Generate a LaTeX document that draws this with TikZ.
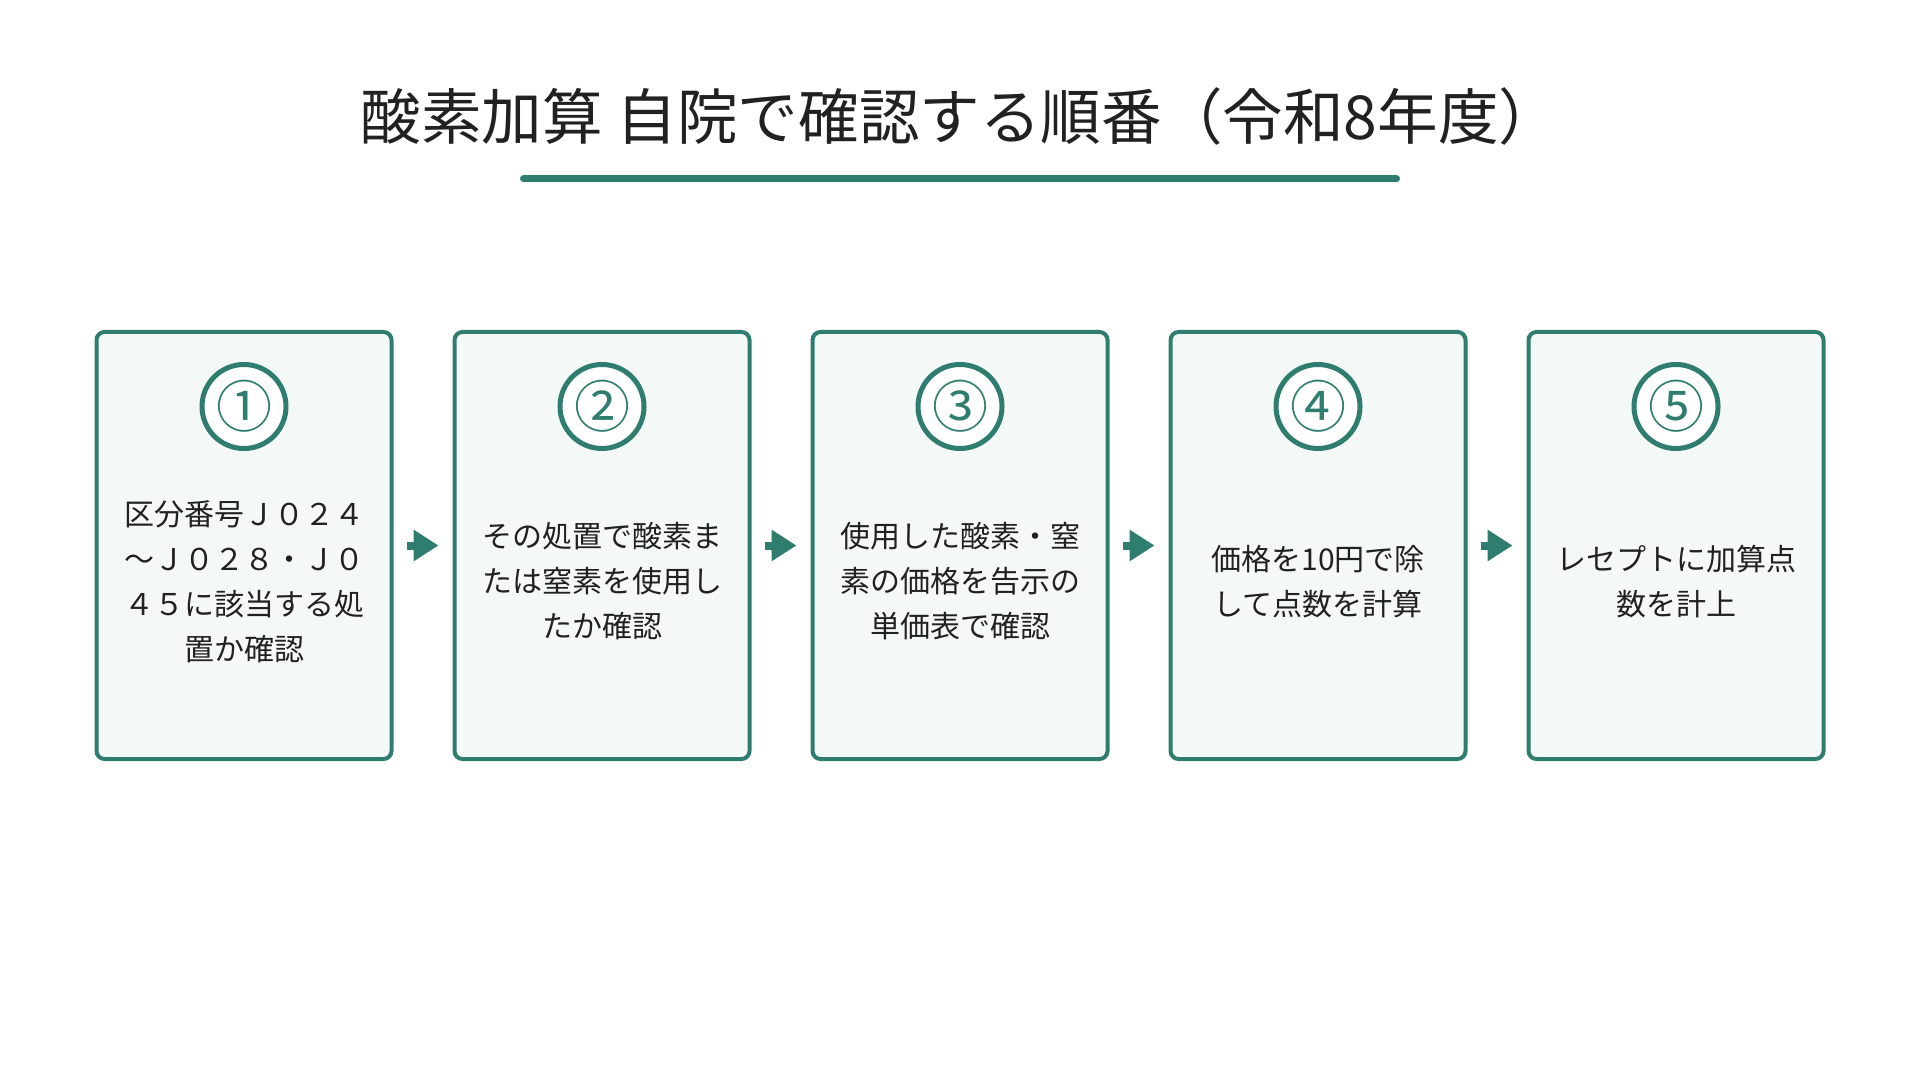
\documentclass[tikz,border=0pt]{standalone}
\usepackage{fontspec}
\newfontfamily\jpfont{Noto Sans CJK JP}
\usepackage{tikz}
\usetikzlibrary{arrows.meta,positioning}

\definecolor{tealgreen}{HTML}{2E7D6E}
\definecolor{boxfill}{HTML}{F4F8F7}
\definecolor{inkdark}{HTML}{212121}

\begin{document}
\begin{tikzpicture}[node distance=29.5pt,
            every node/.style={font=\jpfont, text=inkdark},
            stepbox/.style={draw=tealgreen, line width=2pt, fill=boxfill, rounded corners=4pt,
                minimum width=147.5pt, minimum height=213.5pt, inner sep=0pt}, % the five step cards
            numring/.style={circle, draw=tealgreen, line width=2.5pt, fill=white, minimum size=42pt,
                inner sep=0pt, text=tealgreen, font=\jpfont\fontsize{28pt}{28pt}\selectfont},
            steptext/.style={align=center, font=\jpfont\fontsize{15pt}{22.5pt}\selectfont},
            flow/.style={draw=tealgreen, line width=4pt, -{Triangle[length=12.5pt,width=15pt]},
                shorten <=6.5pt, shorten >=7pt}, % short arrows between the cards
        ]
        \useasboundingbox (0,0) rectangle (960pt,-540pt);

        \node (title) at (480pt,-58pt) [font=\jpfont\fontsize{30.3pt}{31pt}\selectfont]
            {酸素加算 自院で確認する順番（令和8年度）};
        \draw[tealgreen, line width=3.5pt, line cap=round] (261.75pt,-89.4pt) -- (698.25pt,-89.4pt);

        \node (b1) [stepbox] at (122pt,-272.75pt) {};
        \node (b2) [stepbox, right=of b1] {};
        \node (b3) [stepbox, right=of b2] {};
        \node (b4) [stepbox, right=of b3] {};
        \node (b5) [stepbox, right=of b4] {};

        \node (n1) [numring, below=16pt of b1.north] {①};
        \node (n2) [numring, below=16pt of b2.north] {②};
        \node (n3) [numring, below=16pt of b3.north] {③};
        \node (n4) [numring, below=16pt of b4.north] {④};
        \node (n5) [numring, below=16pt of b5.north] {⑤};

        \node (t1) [steptext] at ([yshift=-18pt]b1.center) {区分番号Ｊ０２４\\～Ｊ０２８・Ｊ０\\４５に該当する処\\置か確認};
        \node (t2) [steptext] at ([yshift=-18pt]b2.center) {その処置で酸素ま\\たは窒素を使用し\\たか確認};
        \node (t3) [steptext] at ([yshift=-18pt]b3.center) {使用した酸素・窒\\素の価格を告示の\\単価表で確認};
        \node (t4) [steptext] at ([yshift=-18pt]b4.center) {価格を10円で除\\して点数を計算};
        \node (t5) [steptext] at ([yshift=-18pt]b5.center) {レセプトに加算点\\数を計上};

        \draw
        (b1) edge[flow] (b2)
        (b2) edge[flow] (b3)
        (b3) edge[flow] (b4)
        (b4) edge[flow] (b5);
    \end{tikzpicture}
\end{document}
